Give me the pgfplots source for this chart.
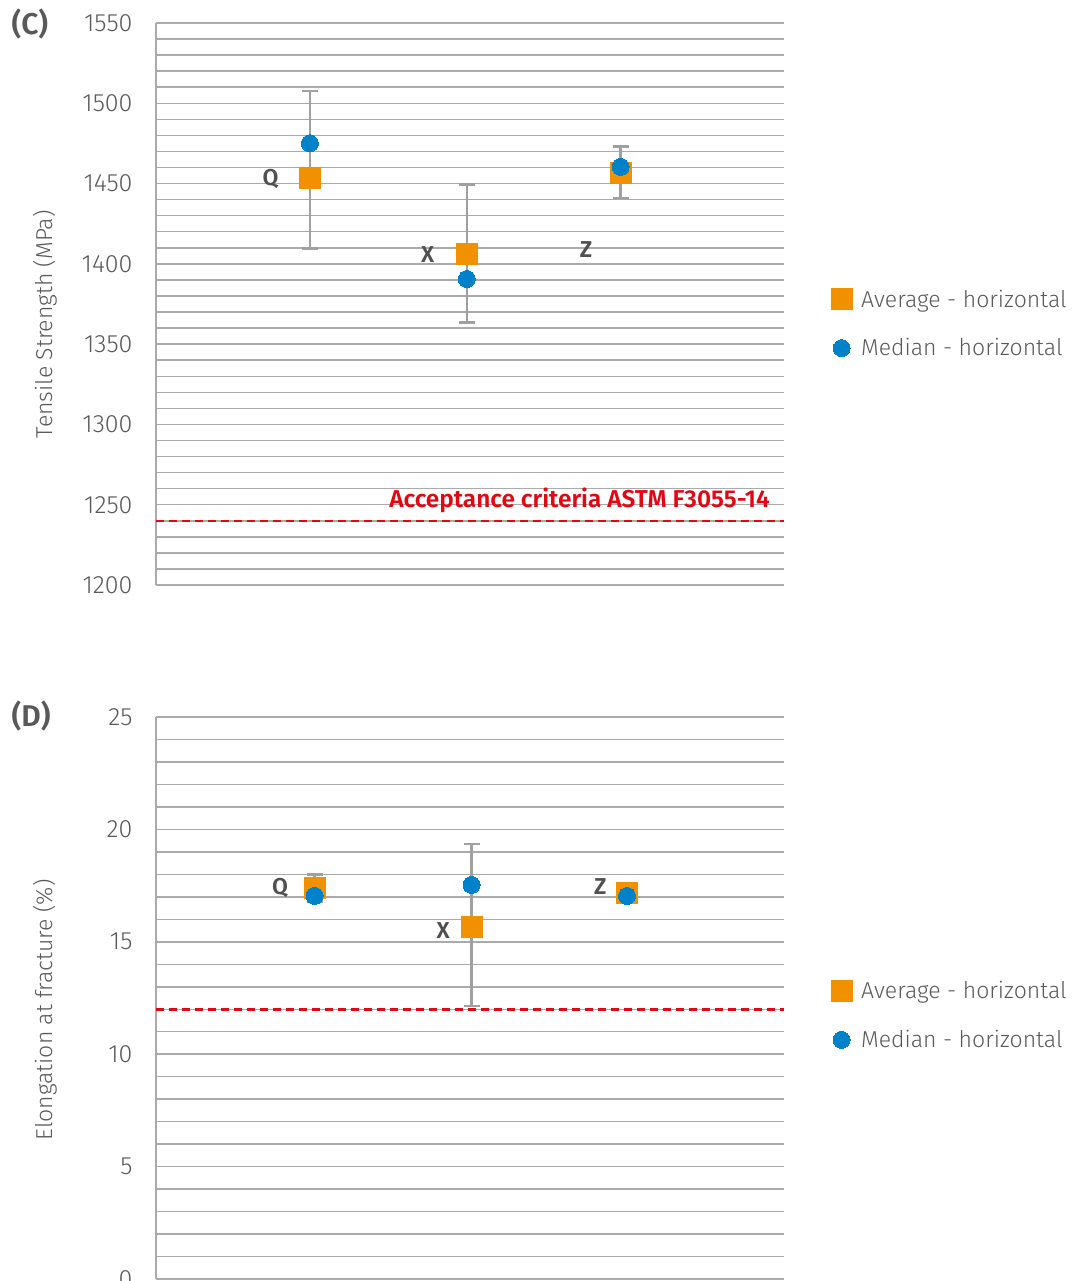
\documentclass[border=0pt]{standalone}
\usepackage{fontspec}
\setmainfont{Fira Sans}[UprightFont={* Light}, BoldFont={* SemiBold}]
\usepackage{pgfplots}
\pgfplotsset{compat=1.18}

\definecolor{avgc}{RGB}{242,145,0}
\definecolor{medc}{RGB}{0,130,202}
\definecolor{gridc}{RGB}{170,170,170}
\definecolor{txtc}{RGB}{89,89,89}
\definecolor{lblc}{RGB}{80,80,80}
\definecolor{redc}{RGB}{227,6,19}
\definecolor{errc}{RGB}{160,160,160}

\tikzset{ptlbl/.style={font=\fontsize{23}{27}\selectfont\bfseries, text=lblc}}

\pgfplotsset{
 panel/.style={
  scale only axis, width=628pt, height=562pt,
  xmin=0, xmax=4, xtick=\empty,
  axis lines=left, axis line style={-, draw=gridc, line width=1.5pt},
  ymajorgrids, yminorgrids,
  major grid style={draw=gridc, line width=1.5pt},
  minor grid style={draw=gridc, line width=1.5pt},
  minor y tick num=4,
  major tick length=0pt, minor tick length=0pt,
  /pgf/number format/assume math mode=true,
  /pgf/number format/1000 sep={},
  yticklabel style={font=\fontsize{25}{30}\selectfont, text=txtc, xshift=-20pt},
  ylabel style={font=\fontsize{23}{27}\selectfont, text=txtc},
  legend style={draw=none, fill=none, font=\fontsize{23}{27}\selectfont, text=txtc,
     row sep=26pt, legend cell align=left, anchor=west},
  legend image code/.code={\draw[#1, only marks] plot coordinates {(0.3cm,0cm)}; \path[draw=none, fill=none] (0cm,0cm) rectangle (0.6cm+9pt,0.01pt);},
  clip=false,
 },
 errs/.style={forget plot, draw=none, mark=none,
   error bars/.cd, y dir=both, y explicit,
   error bar style={draw=errc, line width=2.5pt},
   error mark options={draw=errc, line width=2.5pt, mark size=8pt, rotate=90}},
 avgm/.style={only marks, mark=square*, mark size=10.5pt, mark options={draw=avgc, fill=avgc, line width=0pt}},
 medm/.style={only marks, mark=*, mark size=8.5pt, mark options={draw=medc, fill=medc, line width=0pt}},
}

\begin{document}
\begin{tikzpicture}
\path[use as bounding box] (0,0) rectangle (1078pt,-1281pt);

% Panel C
\node[anchor=west, font=\fontsize{30}{36}\selectfont\bfseries, text=txtc] at (8pt,-24pt) {(C)};
\begin{axis}[panel, at={(156pt,-585pt)}, anchor=south west,
  ymin=1200, ymax=1550, ytick={1200,1250,...,1550},
  ylabel={Tensile Strength (MPa)},
  ylabel style={at={(axis description cs:-0.177,0.464)}, anchor=center},
  legend style={at={(axis description cs:1.07,0.465)}}]
\addplot[forget plot, draw=redc, line width=2.5pt, dash pattern=on 8pt off 5pt] coordinates {(0,1240) (4,1240)};
\addplot[errs] coordinates {
 (0.98,1453.7) += (0,54.1) -= (0,44.0)
 (1.98,1406.4) += (0,42.9) -= (0,42.8)
 (2.96,1456.3) += (0,16.9) -= (0,15.3)
};
\addplot[avgm] coordinates {(0.98,1453.7) (1.98,1406.4) (2.96,1456.3)};
\addplot[medm] coordinates {(0.98,1475.1) (1.98,1390.6) (2.96,1460.4)};
\legend{Average - horizontal, Median - horizontal}
\node[ptlbl, anchor=center] at (axis cs:0.73,1453) {Q};
\node[ptlbl, anchor=center] at (axis cs:1.73,1406) {X};
\node[ptlbl, anchor=center] at (axis cs:2.74,1409) {Z};
\node[anchor=base east, font=\fontsize{24.4}{29}\selectfont\bfseries, text=redc, inner sep=0pt] at (axis cs:3.91,1248.5) {Acceptance criteria ASTM F3055-14};
\end{axis}

% Panel D
\node[anchor=west, font=\fontsize{30}{36}\selectfont\bfseries, text=txtc] at (8pt,-716pt) {(D)};
\begin{axis}[panel, at={(156pt,-1279pt)}, anchor=south west,
  ymin=0, ymax=25, ytick={0,5,...,25},
  ylabel={Elongation at fracture (\%)},
  ylabel style={at={(axis description cs:-0.177,0.479)}, anchor=center},
  legend style={at={(axis description cs:1.07,0.469)}}]
\addplot[forget plot, draw=redc, line width=2.5pt, dash pattern=on 8pt off 5pt] coordinates {(0,12) (4,12)};
\addplot[errs] coordinates {
 (1.01,17.39) += (0,0.6) -= (0,0.6)
 (2.01,15.66) += (0,3.69) -= (0,3.52)
 (3.00,17.17) += (0,0.2) -= (0,0.2)
};
\addplot[avgm] coordinates {(1.01,17.39) (2.01,15.66) (3.00,17.17)};
\addplot[medm] coordinates {(1.01,17.04) (2.01,17.53) (3.00,17.04)};
\legend{Average - horizontal, Median - horizontal}
\node[ptlbl, anchor=center] at (axis cs:0.79,17.39) {Q};
\node[ptlbl, anchor=center] at (axis cs:1.83,15.48) {X};
\node[ptlbl, anchor=center] at (axis cs:2.83,17.44) {Z};
\end{axis}
\end{tikzpicture}
\end{document}
